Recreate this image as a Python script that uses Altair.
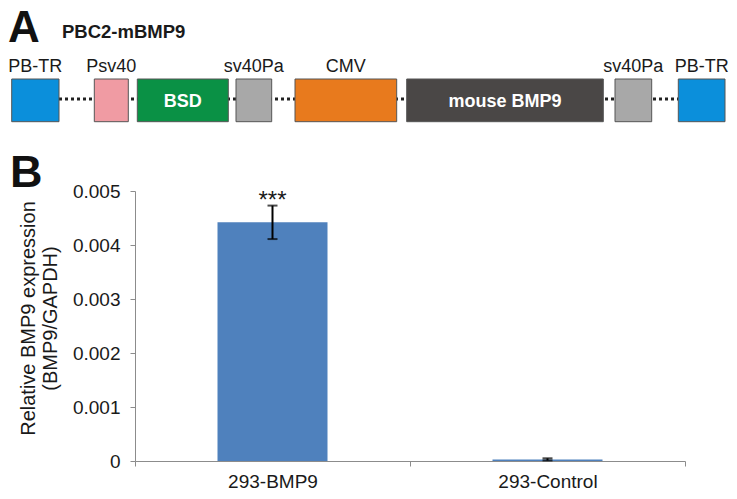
import altair as alt
import pandas as pd

FONT = "Liberation Sans"

# ---- Panel B data ----
groups = ["293-BMP9", "293-Control"]
expression = [0.00442, 0.00003]
errors = [0.00031, 0.00002]
stars = ["***", ""]

# ---- Panel A (construct map) data, in figure units ----
elements = ["PB-TR", "Psv40", "BSD", "sv40Pa", "CMV", "mouse BMP9", "sv40Pa", "PB-TR"]
el_start = [11.7, 94.3, 137.3, 236.0, 295.0, 406.7, 615.0, 678.3]
el_end = [59.0, 128.3, 228.3, 271.7, 396.7, 603.3, 651.7, 725.0]
el_color = ["#0B8FDB", "#F09BA3", "#0A9145", "#A8A8A8", "#E87A1D", "#4A4746", "#A8A8A8", "#0B8FDB"]
el_label_pos = ["above", "above", "inside", "above", "above", "inside", "above", "above"]
backbone = [59.0, 678.3]

bdf = pd.DataFrame({"group": groups, "value": expression, "err": errors, "star": stars})
bdf["lo"] = bdf["value"] - bdf["err"]
bdf["hi"] = bdf["value"] + bdf["err"]

xenc = alt.X(
    "group:N",
    sort=groups,
    title=None,
    scale=alt.Scale(paddingInner=0, paddingOuter=0),
    axis=alt.Axis(
        labelAngle=0, labelFontSize=19, labelFont=FONT, labelColor="#1a1a1a",
        tickBand="extent", tickSize=5, tickColor="#8c8c8c", domainColor="#8c8c8c",
        labelPadding=6,
    ),
)
yscale = alt.Scale(domain=[0, 0.005], nice=False)
yaxis = alt.Axis(
    values=[0, 0.001, 0.002, 0.003, 0.004, 0.005],
    labelExpr="datum.value == 0 ? '0' : format(datum.value, '.3f')",
    grid=False, labelFontSize=19, labelFont=FONT, labelColor="#1a1a1a",
    tickSize=5, tickColor="#8c8c8c", domainColor="#8c8c8c", labelPadding=10,
    title=["Relative BMP9 expression", "(BMP9/GAPDH)"],
    titleFont=FONT, titleFontSize=20, titleFontWeight="normal", titleColor="#1a1a1a",
    titleAngle=-90, titleX=-107, titleY=127, titleAlign="center", titleBaseline="middle",
    titleLineHeight=22,
)

bars = alt.Chart(bdf).mark_bar(width=alt.RelativeBandSize(0.4), color="#4F81BD").encode(
    x=xenc, y=alt.Y("value:Q", scale=yscale, axis=yaxis)
)
err_rule = alt.Chart(bdf).mark_rule(color="black", strokeWidth=2).encode(
    x=alt.X("group:N", sort=groups), y="lo:Q", y2="hi:Q"
)
cap_lo = alt.Chart(bdf).mark_tick(color="black", size=10, thickness=2).encode(
    x=alt.X("group:N", sort=groups), y="lo:Q"
)
cap_hi = alt.Chart(bdf).mark_tick(color="black", size=10, thickness=2).encode(
    x=alt.X("group:N", sort=groups), y="hi:Q"
)
star_txt = alt.Chart(bdf).mark_text(
    font=FONT, fontSize=24, color="#1a1a1a", baseline="alphabetic", dy=2
).encode(x=alt.X("group:N", sort=groups), y="hi:Q", text="star:N")

panel_b = alt.layer(bars, err_rule, cap_lo, cap_hi, star_txt)

# ---- Panel A ----
edf = pd.DataFrame({
    "name": elements, "start": el_start, "end": el_end,
    "color": el_color, "pos": el_label_pos,
})
edf["mid"] = (edf["start"] + edf["end"]) / 2
xd = alt.Scale(domain=[135, 685], nice=False, zero=False)

line_df = pd.DataFrame({"s": [backbone[0]], "e": [backbone[1]]})
dots = alt.Chart(line_df).mark_rule(color="#222222", strokeWidth=3, strokeDash=[3, 3]).encode(
    x=alt.X("s:Q", scale=xd, axis=None), x2="e:Q", y=alt.value(-92)
)
boxes = alt.Chart(edf).mark_rect(stroke="#555555", strokeWidth=1).encode(
    x=alt.X("start:Q", scale=xd, axis=None), x2="end:Q",
    y=alt.value(-112), y2=alt.value(-69.3),
    color=alt.Color("color:N", scale=None),
)
above = alt.Chart(edf).transform_filter("datum.pos == 'above'").mark_text(
    font=FONT, fontSize=18, color="#1a1a1a", baseline="alphabetic"
).encode(x=alt.X("mid:Q", scale=xd, axis=None), y=alt.value(-119.5), text="name:N")
inside = alt.Chart(edf).transform_filter("datum.pos == 'inside'").mark_text(
    font=FONT, fontSize=18, fontWeight="bold", color="white", baseline="alphabetic"
).encode(x=alt.X("mid:Q", scale=xd, axis=None), y=alt.value(-84.3), text="name:N")

letter_a = alt.Chart(pd.DataFrame({"t": ["A"]})).mark_text(
    font=FONT, fontSize=44, fontWeight="bold", color="#111111", align="left", baseline="alphabetic"
).encode(x=alt.value(-127), y=alt.value(-148.8), text="t:N")
letter_b = alt.Chart(pd.DataFrame({"t": ["B"]})).mark_text(
    font=FONT, fontSize=45, fontWeight="bold", color="#111111", align="left", baseline="alphabetic"
).encode(x=alt.value(-125), y=alt.value(-4.3), text="t:N")
construct = alt.Chart(pd.DataFrame({"t": ["PBC2-mBMP9"]})).mark_text(
    font=FONT, fontSize=18.5, fontWeight="bold", color="#1a1a1a", align="left", baseline="alphabetic"
).encode(x=alt.value(-73), y=alt.value(-153), text="t:N")

panel_a = alt.layer(dots, boxes, above, inside, letter_a, letter_b, construct)

chart = alt.layer(panel_b, panel_a).resolve_scale(x="independent").properties(
    width=550, height=270,
    autosize=alt.AutoSizeParams(type="none"),
    padding={"left": 127, "top": 183, "right": 44, "bottom": 30},
).configure_view(stroke=None)

chart.save("out.html", embed_options={"renderer": "svg", "actions": False})
